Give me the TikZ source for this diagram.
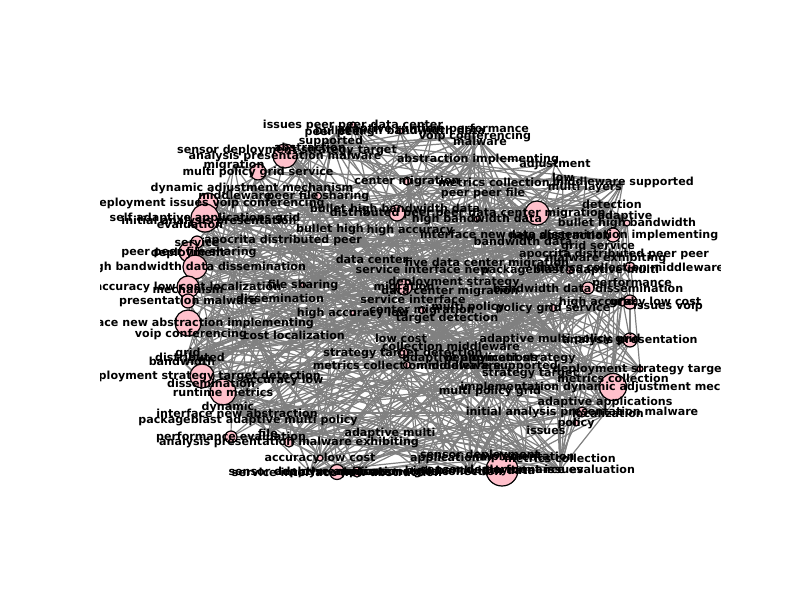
\documentclass[tikz,border=0pt]{standalone}
\usepackage{fontspec}
\setmainfont{DejaVu Sans}
\definecolor{nodepink}{HTML}{FFC0CB}
\definecolor{edgegray}{HTML}{808080}
\pgfdeclarelayer{edgelayer}
\pgfsetlayers{edgelayer,main}
\tikzset{
  vis/.style={circle, fill=nodepink, draw=black, line width=1.2pt, inner sep=0pt},
  invis/.style={circle, inner sep=0pt, minimum size=0pt},
  lab/.style={inner sep=0pt, font=\fontsize{11.1}{13}\selectfont\bfseries, text=black},
  edge/.style={draw=edgegray, line width=1.2pt}
}
\begin{document}
\begin{tikzpicture}[x=1pt,y=-1pt]
\useasboundingbox (0,0) rectangle (800,600);
\def\vlist{1/285/156/24/analysis presentation malware,
2/258/172/16/multi policy grid service,
3/318/196/7/peer file sharing,
4/208/203/20/deployment issues voip conferencing,
5/205/218/28/self adaptive applications grid,
6/197/242/12/service,
7/189/252/20/peer peer file sharing,
8/195/267/24/high bandwidth data dissemination,
9/188/287/22/accuracy low cost localization,
10/188/301/14/presentation malware,
11/188/323/26/interface new abstraction implementing,
12/202/376/24/deployment strategy target detection,
13/223/392/26/runtime metrics,
14/231/437/12/performance evaluation,
15/289/442/10/analysis presentation malware exhibiting,
16/320/458/6/accuracy low cost,
17/337/472/15/service interface new abstraction,
18/357/472/10/adaptive applications grid,
19/502/470/32/sensor deployment issues,
20/613/387/27/implementation dynamic adjustment mechanism,
21/640/369/6/deployment strategy target,
22/582/412/10/initial analysis presentation malware,
23/576/423/6/policy,
24/630/340/14/analysis presentation,
25/630/302/14/high accuracy low cost,
26/588/288/12/bandwidth data dissemination,
27/630/267/10/metrics collection middleware,
28/570/270/8/packageblast adaptive multi,
29/553/308/7/policy grid service,
30/404/287/16/migration,
31/397/213/16/distributed peer peer,
32/537/213/24/data center migration,
33/477/219/6/high bandwidth data,
34/422/310/7/center migration,
35/403/353/10/strategy target detection,
36/407/365/7/metrics collection middleware,
37/407/181/8/center migration,
38/613/235/14/data dissemination implementing,
39/627/223/6/bullet high bandwidth,
40/353/125/6/issues peer peer data center,
41/400/131/6/bullet high bandwidth data,
42/353/313/5/high accuracy low,
43/303/285/5/file sharing,
44/622/302/8/grid}
\def\ilist{45/433/129/0/adaptive runtime performance,
46/335/134/0/peer peer,
47/331/141/0/supported,
48/475/136/0/voip conferencing,
49/480/141/0/malware,
50/287/150/0/sensor deployment strategy target,
51/310/147/0/abstraction,
52/478/159/0/abstraction implementing,
53/555/164/0/adjustment,
54/563/177/0/low,
55/494/182/0/metrics collection,
56/623/182/0/middleware supported,
57/585/187/0/multi layers,
58/483/193/0/peer peer file,
59/612/204/0/detection,
60/625/216/0/adaptive,
61/234/165/0/migration,
62/252/188/0/dynamic adjustment mechanism,
63/235/195/0/middleware,
64/209/221/0/initial analysis presentation,
65/190/224/0/evaluation,
66/283/240/0/apocrita distributed peer,
67/330/229/0/bullet high,
68/410/230/0/high accuracy,
69/463/234/0/interface new,
70/523/241/0/bandwidth data,
71/395/209/0/bullet high bandwidth data,
72/560/235/0/new abstraction,
73/188/253/0/deployment,
74/372/259/0/data center,
75/423/269/0/service interface new,
76/487/263/0/five data center migration,
77/598/246/0/grid service,
78/614/254/0/apocrita distributed peer peer,
79/606/258/0/malware exhibiting,
80/454/282/0/deployment strategy,
81/450/291/0/data center migration,
82/413/299/0/service interface,
83/468/307/0/multi policy,
84/447/318/0/target detection,
85/632/283/0/performance,
86/188/289/0/mechanism,
87/280/298/0/dissemination,
88/294/335/0/cost localization,
89/191/334/0/voip conferencing,
90/401/338/0/low cost,
91/451/346/0/collection middleware,
92/560/339/0/adaptive multi policy grid,
93/470/358/0/adaptive applications,
94/510/358/0/deployment strategy,
95/487/366/0/middleware supported,
96/530/374/0/strategy target,
97/613/378/0/metrics collection,
98/490/391/0/multi policy grid,
99/605/402/0/adaptive applications,
100/608/413/0/localization,
101/546/430/0/issues,
102/390/433/0/adaptive multi,
103/188/353/0/grid,
104/190/357/0/distributed,
105/182/361/0/bandwidth,
106/211/383/0/dissemination,
107/283/380/0/accuracy low,
108/228/407/0/dynamic,
109/237/413/0/interface new abstraction,
110/248/420/0/packageblast adaptive multi policy,
111/268/433/0/file,
112/310/472/0/sensor deployment issues,
113/420/471/0/runtime metrics collection,
114/470/471/0/high bandwidth data,
115/560/470/0/performance evaluation,
116/445/458/0/application,
117/480/455/0/sensor deployment,
118/525/457/0/implementation,
119/560/458/0/metrics collection}
% vertices
\foreach \i/\x/\y/\d/\t in \vlist {
  \node[vis, minimum size=\d pt] (n\i) at (\x,\y) {};
}
\foreach \i/\x/\y/\d/\t in \ilist {
  \node[invis] (n\i) at (\x,\y) {};
}
% edges
\pgfmathsetseed{4242}
\begin{pgfonlayer}{edgelayer}
\foreach \k in {1,...,650} {
  \pgfmathrandominteger{\ea}{1}{119}
  \pgfmathrandominteger{\eb}{1}{119}
  \ifnum\ea=\eb\else
  \draw[edge] (n\ea.center) -- (n\eb.center);
  \fi
}
\end{pgfonlayer}
% labels, clipped to the plot area
\begin{scope}
\clip (100,72) rectangle (720,534);
\foreach \i/\x/\y/\d/\t in \vlist {
  \node[lab] (l\i) at (\x,\y) {\t};
}
\foreach \i/\x/\y/\d/\t in \ilist {
  \node[lab] (l\i) at (\x,\y) {\t};
}
\node[lab] (x1) at (668,306) {issues voip};
\end{scope}
\end{tikzpicture}
\end{document}
